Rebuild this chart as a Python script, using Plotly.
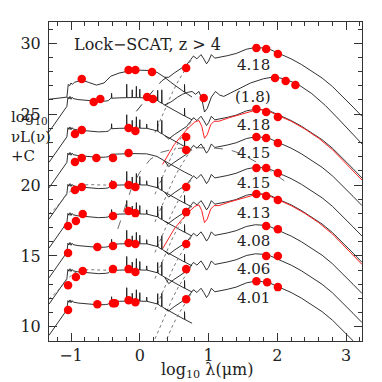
import numpy as np
import plotly.graph_objects as go

# ---------------- data ----------------
labels = ["4.18", "(1.8)", "4.18", "4.15", "4.15", "4.13", "4.08", "4.06", "4.01"]
label_y = [28.46, 26.21, 24.23, 22.26, 20.14, 18.02, 16.05, 14.07, 12.02]
label_x = 1.65

# optical plateau level of each SED (value near log lambda = 0)
opt_level = [28.1, 26.15, 24.0, 22.2, 20.0, 17.95, 15.85, 14.0, 11.8]
# far-IR peak level of each SED (SED 1 has its own curve)
ir_peak = [29.7, 27.6, 25.35, 23.4, 21.25, 19.4, 17.2, 15.15, 13.22]
spiky = [True, True, True, False, True, True, True, True, True]

# spiral-like optical template (offset from plateau)
sp_x = [-1.32, -1.2, -1.1, -1.06, -1.045, -1.03, -1.015, -1.0, -0.985, -0.97, -0.9, -0.8,
        -0.7, -0.6, -0.5, -0.46, -0.42, -0.3, -0.1, 0.1, 0.25, 0.36, 0.45, 0.55, 0.65, 0.76]
sp_dy = [-2.4, -1.6, -0.85, -0.6, 0.05, -0.08, 0.1, -0.1, 0.05, -0.05, -0.12, -0.18,
         -0.24, -0.25, -0.23, -0.2, -0.03, 0.0, 0.02, 0.0, -0.18, -0.5, -0.75, -1.0, -1.28, -1.55]

# elliptical-like optical template for the top SED
el_x = [-1.32, -1.1, -1.06, -1.04, -1.02, -1.0, -0.98, -0.95, -0.84, -0.75, -0.63, -0.52,
        -0.45, -0.42, -0.3, -0.15, 0.0, 0.15, 0.25, 0.36, 0.45, 0.55, 0.65, 0.76]
el_dy = [-2.05, -1.95, -1.9, -1.0, -1.1, -0.9, -1.0, -0.85, -0.7, -0.85, -1.05, -0.9,
         -0.6, -0.42, -0.2, -0.05, 0.0, -0.02, -0.15, -0.5, -0.85, -1.2, -1.55, -1.9]

# emission-line spikes on the optical templates
spike_x = [-0.41, -0.19, -0.11, -0.05, 0.0, 0.1, 0.26, 0.32, 0.65]
spike_h = [0.35, 0.95, 0.55, 0.8, 0.6, 0.3, 0.75, 0.95, 0.55]

# total IR curve template (offset from IR peak)
ir_x = [0.42, 0.5, 0.6, 0.68, 0.74, 0.78, 0.83, 0.89, 0.93, 0.97, 1.0, 1.04, 1.09, 1.15,
        1.27, 1.4, 1.55, 1.68, 1.78, 1.9, 2.05, 2.2, 2.35, 2.5, 2.65, 2.8, 2.95, 3.1, 3.23]
ir_dy = [-2.1, -1.8, -1.5, -1.22, -0.85, -0.6, -0.8, -0.5, -0.8, -1.15, -0.95, -0.5, -0.75, -0.7,
         -0.58, -0.42, -0.12, 0.0, -0.03, -0.15, -0.45, -0.8, -1.2, -1.65, -2.15, -2.75, -3.45, -4.2, -4.85]

# starburst component (dotted)
sb_x = [0.22, 0.27, 0.33, 0.4, 0.48, 0.56, 0.64, 0.72, 0.78]
sb_dy = [-6.0, -5.45, -4.7, -3.95, -3.1, -2.35, -1.7, -1.1, -0.62]

# SED 1 (AGN-like) IR curve, absolute
s1_x = [0.45, 0.55, 0.62, 0.69, 0.76, 0.81, 0.86, 0.9, 0.94, 0.98, 1.04, 1.1, 1.16, 1.22,
        1.3, 1.45, 1.61, 1.8, 1.94, 2.1, 2.3, 2.5, 2.7, 2.9, 3.1, 3.23]
s1_y = [25.85, 26.2, 26.4, 26.53, 26.6, 26.4, 26.6, 26.1, 25.15, 25.4, 26.2, 26.6, 26.35, 26.25,
        26.45, 26.8, 27.2, 27.5, 27.62, 27.5, 27.1, 26.45, 25.6, 24.6, 23.55, 22.9]

# AGN torus (red) template, offset from IR peak
agn_x = [0.33, 0.4, 0.5, 0.6, 0.7, 0.8, 0.86, 0.9, 0.94, 0.98, 1.03, 1.08, 1.15, 1.3, 1.45,
         1.6, 1.72, 1.85, 2.0, 2.2, 2.4, 2.6, 2.8, 3.0, 3.23]
agn_dy = [-3.9, -3.3, -2.5, -1.9, -1.35, -0.9, -0.8, -1.2, -2.05, -1.8, -1.1, -0.85, -0.85, -0.6, -0.4,
          -0.15, -0.02, -0.1, -0.42, -0.85, -1.4, -2.05, -2.85, -3.85, -5.0]
agn_seds = [2, 5]

# black dashed components
d0_x = [-0.05, 0.08, 0.2, 0.32, 0.45]
d0_y = [25.2, 26.0, 26.7, 27.35, 27.8]
d3_x = [-0.32, -0.22, -0.12, 0.0, 0.15, 0.3, 0.5, 0.7, 0.9, 1.1, 1.3, 1.5, 1.7, 1.9, 2.1]
d3_y = [16.9, 18.3, 19.8, 20.9, 21.8, 22.3, 22.55, 22.65, 22.65, 22.6, 22.5, 22.15, 21.6, 21.0, 20.3]

# alternative optical template (dotted) for two SEDs
alt_x = [-1.32, -1.2, -1.05, -0.95, -0.85, -0.7, -0.55, -0.45, -0.4]
alt_dy = [-2.05, -1.5, -0.6, -0.2, 0.0, 0.03, 0.0, -0.02, 0.0]
alt_seds = [4, 7]

# photometric points (red)
dot_x = [
    [-0.844, -0.163, -0.064, 0.177, 0.674, 1.695, 1.837, 2.007],
    [-0.67, -0.574, 0.106, 0.191, 0.929, 1.965, 2.121, 2.262],
    [-0.943, -0.844, -0.163, -0.064, 0.674, 1.695, 1.837, 2.007],
    [-0.943, -0.844, -0.631, -0.39, -0.163, 0.674, 1.695, 1.837, 2.007],
    [-0.943, -0.844, -0.39, -0.163, -0.064, 0.674, 1.695, 1.837, 2.007],
    [-1.043, -0.929, -0.83, -0.39, -0.163, -0.064, 0.674, 1.695, 1.837, 2.007],
    [-1.043, -0.617, -0.39, -0.163, -0.064, 0.674, 1.837, 2.007],
    [-1.043, -0.929, -0.83, -0.39, -0.163, -0.064, 0.674, 1.837, 2.007],
    [-1.043, -0.617, -0.39, -0.362, -0.163, -0.064, 0.674, 1.695, 1.851, 2.007],
]
dot_y = [
    [27.48, 28.12, 28.12, 27.98, 28.26, 29.67, 29.6, 29.25],
    [25.86, 26.07, 26.21, 26.07, 26.14, 27.55, 27.34, 27.06],
    [23.6, 23.88, 24.02, 23.81, 23.39, 25.36, 25.15, 24.8],
    [21.62, 21.91, 21.91, 21.91, 22.26, 22.47, 23.39, 23.32, 22.96],
    [19.65, 19.86, 20.0, 20.0, 19.86, 19.86, 21.2, 21.2, 20.85],
    [17.11, 17.46, 17.95, 17.81, 18.17, 18.02, 18.09, 19.37, 19.22, 18.94],
    [15.2, 15.63, 15.7, 15.91, 15.84, 15.84, 17.11, 16.89],
    [12.94, 13.51, 13.93, 14.07, 14.07, 13.86, 14.07, 14.99, 14.99],
    [11.18, 11.6, 11.67, 11.67, 11.88, 11.74, 11.95, 13.22, 13.15, 12.8],
]

x_range = [-1.32, 3.23]
y_range = [9.0, 31.5]

# ---------------- figure ----------------
BLACK = "#1a1a1a"
GREY = "#777777"
FONT = "DejaVu Serif"
fig = go.Figure()


def add_line(x, y, color=BLACK, width=0.9, dash="solid"):
    fig.add_trace(go.Scatter(x=list(x), y=list(y), mode="lines",
                             line=dict(color=color, width=width, dash=dash),
                             hoverinfo="skip", showlegend=False))


for k in range(9):
    if k == 0:
        tx, tdy = np.array(el_x), np.array(el_dy)
    else:
        tx, tdy = np.array(sp_x), np.array(sp_dy)
    base = opt_level[k] + tdy
    xs, ys = list(tx), list(base)
    if spiky[k]:
        for sx, sh in zip(spike_x, spike_h):
            if k == 0 and sx < 0.5:
                continue
            b = float(np.interp(sx, tx, base))
            xs += [sx - 0.004, sx, sx + 0.004]
            ys += [b, b + sh, b]
    order = np.argsort(xs, kind="stable")
    add_line(np.array(xs)[order], np.array(ys)[order])

    join_y = float(np.interp(0.36, tx, base))
    if k == 1:
        add_line([0.36] + s1_x, [join_y] + s1_y)
    else:
        add_line([0.36] + ir_x, [join_y] + list(ir_peak[k] + np.array(ir_dy)))
        add_line(sb_x, ir_peak[k] + np.array(sb_dy), color=GREY, width=1.0, dash="dot")

    if k in agn_seds:
        add_line(agn_x, ir_peak[k] + np.array(agn_dy), color="#ff2020", width=1.0)
    if k in alt_seds:
        add_line(alt_x, opt_level[k] + np.array(alt_dy), color=GREY, width=1.0, dash="dot")

add_line(d0_x, d0_y, dash="dash", width=0.9)
add_line(d3_x, d3_y, dash="dash", width=0.8, color="#444")

all_x = [v for row in dot_x for v in row]
all_y = [v for row in dot_y for v in row]
fig.add_trace(go.Scatter(x=all_x, y=all_y, mode="markers",
                         marker=dict(color="#ff0000", size=8.5, line=dict(width=0)),
                         hoverinfo="skip", showlegend=False))

for t, yy in zip(labels, label_y):
    fig.add_annotation(x=label_x, y=yy, text=t, showarrow=False,
                       font=dict(family=FONT, size=15, color="#222"),
                       xanchor="center", yanchor="middle")

fig.add_annotation(x=-0.99, y=29.88, text="Lock\u2212SCAT, z > 4", showarrow=False,
                   font=dict(family=FONT, size=16, color="#222"),
                   xanchor="left", yanchor="middle")

# page body has an 8px margin: figure is 374 px, placed at (8, 8)
fig.add_annotation(xref="paper", yref="paper", x=-0.128, y=0.64,
                   text="log<sub>10</sub><br>\u03bdL(\u03bd)<br>+C", showarrow=False,
                   align="left", xanchor="left", yanchor="middle",
                   font=dict(family=FONT, size=15, color="#222"))
fig.add_annotation(xref="paper", yref="paper", x=0.505, y=-0.092,
                   text="log<sub>10</sub> \u03bb(\u03bcm)", showarrow=False,
                   xanchor="center", yanchor="middle",
                   font=dict(family=FONT, size=16, color="#222"))

axis_common = dict(showgrid=False, zeroline=False, showline=True, linecolor="#333",
                   linewidth=1, mirror="ticks", ticks="inside", ticklen=8,
                   tickcolor="#333", tickwidth=1,
                   tickfont=dict(family=FONT, size=16, color="#222"))
fig.update_xaxes(range=x_range, tick0=0, dtick=1,
                 minor=dict(dtick=0.2, ticks="inside", ticklen=4, tickcolor="#333"),
                 **axis_common)
fig.update_yaxes(range=y_range, tick0=0, dtick=5, ticklabelstandoff=4,
                 minor=dict(dtick=1, ticks="inside", ticklen=4, tickcolor="#333"),
                 **axis_common)

fig.update_layout(width=374, height=374, margin=dict(l=34, r=20, t=14, b=41),
                  plot_bgcolor="white", paper_bgcolor="white", showlegend=False)

fig.write_html("out.html")
